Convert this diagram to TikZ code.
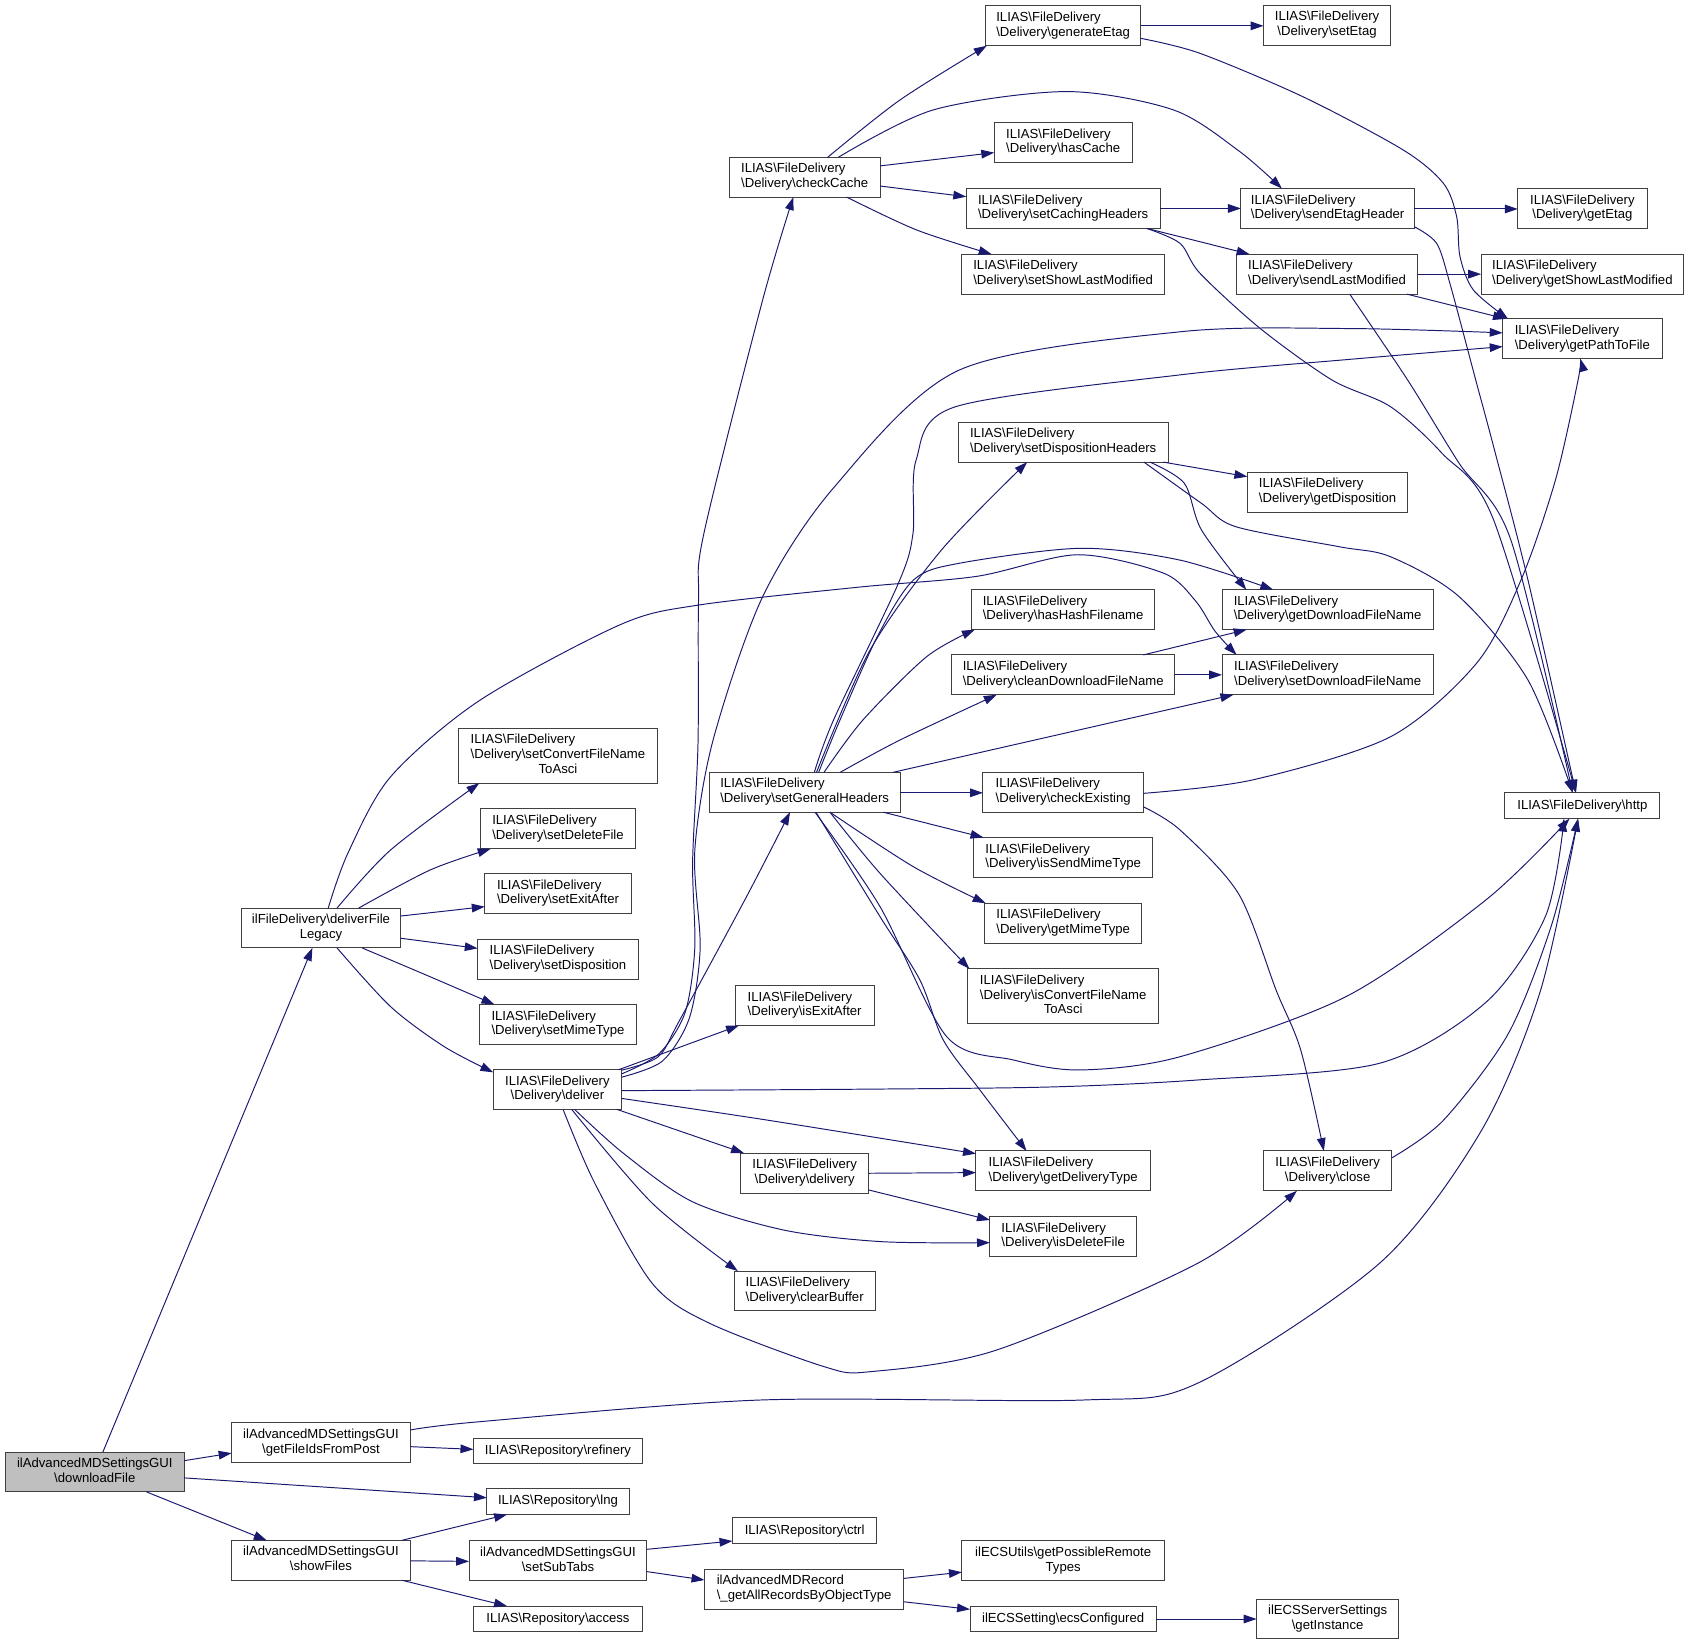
\documentclass[tikz,border=0pt]{standalone}
\usepackage{fontspec}
\setmainfont{Liberation Sans}
\usetikzlibrary{calc,arrows.meta}
\definecolor{edgec}{RGB}{25,25,112}
\definecolor{boxc}{RGB}{64,64,64}
\newcommand{\myBS}{\textbackslash}
\newcommand{\twol}[2]{\begin{tabular}{@{}l@{}}#1\\\multicolumn{1}{@{}c@{}}{#2}\end{tabular}}
\newcommand{\threel}[3]{\begin{tabular}{@{}l@{}}#1\\#2\\\multicolumn{1}{@{}c@{}}{#3}\end{tabular}}
\newcommand{\fd}[1]{\twol{ILIAS\myBS FileDelivery}{\myBS Delivery\myBS #1}}
\begin{document}
\begin{tikzpicture}[x=1pt,y=-1pt,
  font=\fontsize{12.2}{13.6}\selectfont,
  b/.style 2 args={draw=boxc, fill=white, line width=0.9pt, inner sep=0pt, minimum width=#1pt, minimum height=#2pt},
  ed/.style={draw=edgec, line width=0.9pt, -{Triangle[length=12pt,width=8pt]}}]
\fill[white] (0,0) rectangle (1568,1527);
\useasboundingbox (0,0) rectangle (1568,1527);
% nodes
\node[b={166}{37},fill=black!25] (dl) at (88,1366.5) {\twol{ilAdvancedMDSettingsGUI}{\myBS downloadFile}};
\node[b={166}{37}] (gfp) at (298,1339.5) {\twol{ilAdvancedMDSettingsGUI}{\myBS getFileIdsFromPost}};
\node[b={166}{37}] (sf) at (298,1448.5) {\twol{ilAdvancedMDSettingsGUI}{\myBS showFiles}};
\node[b={148}{37}] (dfl) at (298,861.5) {\twol{ilFileDelivery\myBS deliverFile}{Legacy}};
\node[b={184}{51}] (scfa) at (518,701.5) {\threel{ILIAS\myBS FileDelivery}{\myBS Delivery\myBS setConvertFileName}{ToAsci}};
\node[b={144}{37}] (sdf) at (518,769.5) {\fd{setDeleteFile}};
\node[b={136}{37}] (sea) at (518,829.5) {\fd{setExitAfter}};
\node[b={149}{37}] (sdisp) at (518,890.5) {\fd{setDisposition}};
\node[b={146}{37}] (smt) at (518,951) {\fd{setMimeType}};
\node[b={119}{37}] (del) at (517.5,1011.5) {\fd{deliver}};
\node[b={140}{37}] (cc) at (747,164.5) {\fd{checkCache}};
\node[b={144}{37}] (ge) at (987,24) {\fd{generateEtag}};
\node[b={128}{37}] (hc) at (987,132.5) {\fd{hasCache}};
\node[b={180}{37}] (sch) at (987,193.5) {\fd{setCachingHeaders}};
\node[b={188}{37}] (sslm) at (987,254.5) {\fd{setShowLastModified}};
\node[b={118}{37}] (se) at (1232,23.5) {\fd{setEtag}};
\node[b={161}{37}] (seh) at (1232.5,193.5) {\fd{sendEtagHeader}};
\node[b={120}{37}] (gete) at (1469,193.5) {\fd{getEtag}};
\node[b={168}{37}] (slm) at (1232,254.5) {\fd{sendLastModified}};
\node[b={188}{37}] (gslm) at (1469,254.5) {\fd{getShowLastModified}};
\node[b={148}{37}] (gptf) at (1469,314.5) {\fd{getPathToFile}};
\node[b={144}{24}] (http) at (1469,748) {ILIAS\myBS FileDelivery\myBS http};
\node[b={195}{37}] (sdh) at (987,410.5) {\fd{setDispositionHeaders}};
\node[b={149}{37}] (gdisp) at (1232.5,457) {\fd{getDisposition}};
\node[b={170}{37}] (hhf) at (987,566) {\fd{hasHashFilename}};
\node[b={196}{37}] (gdfn) at (1232.5,566) {\fd{getDownloadFileName}};
\node[b={207}{37}] (cdfn) at (987,626.5) {\fd{cleanDownloadFileName}};
\node[b={196}{37}] (sdfn) at (1232.5,626.5) {\fd{setDownloadFileName}};
\node[b={177}{37}] (sgh) at (747,735.5) {\fd{setGeneralHeaders}};
\node[b={149}{37}] (cex) at (987,735.5) {\fd{checkExisting}};
\node[b={166}{37}] (ismt) at (987,796) {\fd{isSendMimeType}};
\node[b={146}{37}] (gmt) at (987,857) {\fd{getMimeType}};
\node[b={177}{51}] (icfa) at (987,925) {\threel{ILIAS\myBS FileDelivery}{\myBS Delivery\myBS isConvertFileName}{ToAsci}};
\node[b={129}{37}] (iea) at (747,933.5) {\fd{isExitAfter}};
\node[b={119}{37}] (dlv) at (747,1089) {\fd{delivery}};
\node[b={162}{37}] (gdt) at (987,1087) {\fd{getDeliveryType}};
\node[b={119}{37}] (close) at (1232.5,1087) {\fd{close}};
\node[b={136}{37}] (idf) at (987,1148) {\fd{isDeleteFile}};
\node[b={131}{37}] (cb) at (747,1198.5) {\fd{clearBuffer}};
\node[b={157}{24}] (ref) at (518,1347) {ILIAS\myBS Repository\myBS refinery};
\node[b={132}{24}] (lng) at (518,1394) {ILIAS\myBS Repository\myBS lng};
\node[b={165}{37}] (sst) at (518,1449) {\twol{ilAdvancedMDSettingsGUI}{\myBS setSubTabs}};
\node[b={157}{24}] (acc) at (518,1503) {ILIAS\myBS Repository\myBS access};
\node[b={134}{24}] (ctrl) at (747,1421) {ILIAS\myBS Repository\myBS ctrl};
\node[b={185}{37}] (gar) at (746.5,1475.5) {\twol{ilAdvancedMDRecord}{\myBS\_getAllRecordsByObjectType}};
\node[b={188}{37}] (gprt) at (987,1449) {\twol{ilECSUtils\myBS getPossibleRemote}{Types}};
\node[b={173}{24}] (ecs) at (987,1503) {ilECSSetting\myBS ecsConfigured};
\node[b={132}{37}] (gi) at (1232.5,1503) {\twol{ilECSServerSettings}{\myBS getInstance}};
% downloadFile
\draw[ed] ($(dl)+(7.5,-18.5)$) -- ($(dfl)+(-8,18.5)$);
\draw[ed] ($(dl)+(83,-10.5)$) -- ($(gfp)+(-83,9.5)$);
\draw[ed] ($(dl)+(83,5.5)$) -- ($(lng)+(-66,-3.6)$);
\draw[ed] ($(dl)+(48,18.5)$) -- ($(sf)+(-50.4,-18.5)$);
% getFileIdsFromPost
\draw[ed] ($(gfp)+(83,3.5)$) -- ($(ref)+(-78.5,-1.5)$);
\draw[ed] plot[smooth] coordinates {($(gfp)+(83,-12)$) (445.6,1319.8) (705.6,1299.7) (1005.5,1299.7) (1112,1284) (1281,1172.5) (1375,1050) (1430,920) ($(http)+(-4,12)$)};
% showFiles
\draw[ed] ($(sf)+(75,-18.5)$) -- ($(lng)+(-47.3,12)$);
\draw[ed] ($(sf)+(83,0.5)$) -- ($(sst)+(-82.5,0.5)$);
\draw[ed] ($(sf)+(75,18.5)$) -- ($(acc)+(-47.3,-12)$);
% setSubTabs
\draw[ed] ($(sst)+(82.5,-10.7)$) -- ($(ctrl)+(-67,9.6)$);
\draw[ed] ($(sst)+(82.5,10)$) -- ($(gar)+(-92.5,-8.7)$);
% getAllRecords
\draw[ed] ($(gar)+(92.5,-10.2)$) -- ($(gprt)+(-94,10.5)$);
\draw[ed] ($(gar)+(92.5,11.5)$) -- ($(ecs)+(-86.5,-9)$);
\draw[ed] ($(ecs)+(86.5,0)$) -- ($(gi)+(-66,0)$);
% deliverFileLegacy
\draw[ed] plot[smooth] coordinates {($(dfl)+(6.7,-18.5)$) (323,792) (362.7,721) (445.6,650) (575.6,580) (648.5,561.7) (798,545) (907,535) (1000,515) (1080,532) (1110,558) (1128,586) ($(sdfn)+(-84.5,-18.5)$)};
\draw[ed] plot[smooth] coordinates {($(dfl)+(14.9,-18.5)$) (362.7,789) ($(scfa)+(-73,25.5)$)};
\draw[ed] plot[smooth] coordinates {($(dfl)+(35,-18.5)$) (399.2,807.7) ($(sdf)+(-62.5,18.5)$)};
\draw[ed] ($(dfl)+(74,-11.1)$) -- ($(sea)+(-68,12.2)$);
\draw[ed] ($(dfl)+(74,9.5)$) -- ($(sdisp)+(-74.5,-10.1)$);
\draw[ed] plot[smooth] coordinates {($(dfl)+(38.2,18.5)$) (399.2,906.7) ($(smt)+(-59,-18.5)$)};
\draw[ed] plot[smooth] coordinates {($(dfl)+(14.9,18.5)$) (362.7,934.6) (412.5,971.7) ($(del)+(-59.5,-16)$)};
% deliver
\draw[ed] plot[smooth] coordinates {($(del)+(59.5,-14.5)$) (612,978) (636,940) (645,880) (643,800) (648,690) (648.5,557) (653.5,495) (708,278.5) ($(cc)+(-10.5,18.5)$)};
\draw[ed] plot[smooth] coordinates {($(del)+(59.5,-11.5)$) (615,985) (640,945) (650,880) (645,790) (662,687) (708,554) (774.6,452) (890.6,343.5) (1095.6,308) (1253,305) ($(gptf)+(-74,-5.5)$)};
\draw[ed] plot[smooth] coordinates {($(del)+(59.5,-18)$) (611,981) (631,947) (693,832.5) ($(sgh)+(-13.6,18.5)$)};
\draw[ed] ($(del)+(57,-18.5)$) -- ($(iea)+(-61,18.5)$);
\draw[ed] plot[smooth] coordinates {($(del)+(59.5,1)$) (818.6,1011) (978.5,1009) (1111.8,1002.6) (1281,987) (1380,930) (1435,850) ($(http)+(-17,12)$)};
\draw[ed] plot[smooth] coordinates {($(del)+(59.5,8.2)$) (712,1039.8) ($(gdt)+(-81,-16)$)};
\draw[ed] ($(del)+(55.5,18.5)$) -- ($(dlv)+(-56.3,-18.5)$);
\draw[ed] plot[smooth] coordinates {($(del)+(16,18.5)$) (578.8,1070.7) (642.8,1115.6) (728,1142) (818.6,1152.7) ($(idf)+(-68,5.6)$)};
\draw[ed] plot[smooth] coordinates {($(del)+(13.3,18.5)$) (605.5,1117) ($(cb)+(-62,-18.5)$)};
\draw[ed] plot[smooth] coordinates {($(del)+(5.3,18.5)$) (552.2,1098.5) (605.5,1191.4) (658.8,1228.5) (765.3,1268.8) (808,1273.4) (925.2,1253.3) (1111.8,1172.8) ($(close)+(-28.5,18.5)$)};
% delivery
\draw[ed] ($(dlv)+(59.5,0.2)$) -- ($(gdt)+(-81,1.6)$);
\draw[ed] ($(dlv)+(59.5,15.7)$) -- ($(idf)+(-68,-15.4)$);
% checkCache
\draw[ed] plot[smooth] coordinates {($(cc)+(21.4,-18.5)$) (835.5,92.8) ($(ge)+(-71,18.5)$)};
\draw[ed] plot[smooth] coordinates {($(cc)+(31.3,-18.5)$) (866.5,102) (990.3,85) (1089.3,102) (1150,140) ($(seh)+(-42.5,-18.5)$)};
\draw[ed] ($(cc)+(70,-10.5)$) -- ($(hc)+(-64,9.2)$);
\draw[ed] ($(cc)+(70,8.2)$) -- ($(sch)+(-90,-10.9)$);
\draw[ed] plot[smooth] coordinates {($(cc)+(39,18.5)$) (851,213.5) ($(sslm)+(-66.4,-18.5)$)};
% generateEtag
\draw[ed] ($(ge)+(72,0)$) -- ($(se)+(-59,0.5)$);
\draw[ed] plot[smooth] coordinates {($(ge)+(72,11.6)$) (1114,49.5) (1210,90) (1302.8,139.3) (1340,170.2) (1352.3,201.2) (1355.4,238.3) (1367.8,269.2) ($(gptf)+(-69,-18.5)$)};
% setCachingHeaders
\draw[ed] ($(sch)+(90,0)$) -- ($(seh)+(-80.5,0)$);
\draw[ed] plot[smooth] coordinates {($(sch)+(77.5,18.5)$) (1114,224.4) ($(slm)+(-72,-18.5)$)};
\draw[ed] plot[smooth] coordinates {($(sch)+(77.5,18.5)$) (1095.5,225.9) (1114,253.7) (1170,305) (1236.6,352.8) (1290.8,377.5) (1338.7,420.8) (1386.6,482.7) ($(http)+(-6,-12)$)};
% sendEtagHeader
\draw[ed] ($(seh)+(80.5,0.5)$) -- ($(gete)+(-60,0.5)$);
\draw[ed] plot[smooth] coordinates {($(seh)+(80.5,17)$) (1333.7,225.9) (1346,263) (1370,352.8) (1386.6,414.7) (1418.5,538.5) ($(http)+(-6,-12)$)};
% sendLastModified
\draw[ed] ($(slm)+(84,0)$) -- ($(gslm)+(-94,0)$);
\draw[ed] ($(slm)+(74,18.5)$) -- ($(gptf)+(-71,-18.5)$);
\draw[ed] plot[smooth] coordinates {($(slm)+(21,18.5)$) (1306.8,352.8) (1354.5,430) (1402.6,501.3) ($(http)+(-9,-12)$)};
% setDispositionHeaders
\draw[ed] ($(sdh)+(93,18.5)$) -- ($(gdisp)+(-74.5,-14.5)$);
\draw[ed] plot[smooth] coordinates {($(sdh)+(80.6,18.5)$) (1099.5,448.7) (1115.4,492) ($(gdfn)+(-75.5,-18.5)$)};
\draw[ed] plot[smooth] coordinates {($(sdh)+(75,18.5)$) (1115.4,467.3) (1147.4,489) (1243,507.5) (1290.8,516.8) (1354.7,554) (1418.5,631.3) ($(http)+(-9,-12)$)};
% cleanDownloadFileName
\draw[ed] ($(cdfn)+(74.4,-18.5)$) -- ($(gdfn)+(-75.2,18.5)$);
\draw[ed] ($(cdfn)+(103.5,0)$) -- ($(sdfn)+(-98,0)$);
% setGeneralHeaders
\draw[ed] plot[smooth] coordinates {($(sgh)+(11,-18.5)$) (807.7,603.5) (874,510.6) ($(sdh)+(-33.4,18.5)$)};
\draw[ed] plot[smooth] coordinates {($(sgh)+(9,-18.5)$) (774,668) (834,541.5) (847.6,495) (850.5,427) (887,377.6) (1095.6,348) (1253,333.6) ($(gptf)+(-74,7.3)$)};
\draw[ed] plot[smooth] coordinates {($(sgh)+(13,-18.5)$) (780,668) (815,590) (848,538.5) (890,523) (1003,509) (1095.5,520) ($(gdfn)+(-50.5,-18.5)$)};
\draw[ed] plot[smooth] coordinates {($(sgh)+(18,-18.5)$) (801,668.5) (860.3,609.6) ($(hhf)+(-82,18.5)$)};
\draw[ed] plot[smooth] coordinates {($(sgh)+(33,-18.5)$) (835.5,687) ($(cdfn)+(-61.7,18.5)$)};
\draw[ed] ($(sgh)+(82,-18.5)$) -- ($(sdfn)+(-87.5,18.5)$);
\draw[ed] ($(sgh)+(88.5,0.5)$) -- ($(cex)+(-74.5,0.5)$);
\draw[ed] ($(sgh)+(73,18.5)$) -- ($(ismt)+(-74,-18.5)$);
\draw[ed] plot[smooth] coordinates {($(sgh)+(23.5,18.5)$) (847.9,804.6) ($(gmt)+(-72,-18.5)$)};
\draw[ed] plot[smooth] coordinates {($(sgh)+(23.5,18.5)$) (817,810.8) ($(icfa)+(-87,-25.5)$)};
\draw[ed] plot[smooth] coordinates {($(sgh)+(9.6,18.5)$) (817,841.7) (878.9,962.4) (940.7,984) (1002.6,993.3) (1095.5,981) (1250,925) (1380,835) ($(http)+(-12,12)$)};
\draw[ed] plot[smooth] coordinates {($(sgh)+(10.5,18.5)$) (817,851) (854,909.8) (875.7,965.5) (909.8,1012) ($(gdt)+(-34,-18.5)$)};
% checkExisting
\draw[ed] plot[smooth] coordinates {($(cex)+(74.5,1)$) (1163,724) (1290.8,684) (1370.7,615.8) (1412,538.5) (1444,445.6) (1465,352.8) ($(gptf)+(-2,18.5)$)};
\draw[ed] plot[smooth] coordinates {($(cex)+(74.5,13.5)$) (1095.5,770.5) (1150,830) (1185,920) (1207.6,975) ($(close)+(-3.5,-18.5)$)};
% close
\draw[ed] plot[smooth] coordinates {($(close)+(59.5,-12)$) (1340,1040) (1400,960) (1440,860) ($(http)+(-4,12)$)};
\end{tikzpicture}
\end{document}
